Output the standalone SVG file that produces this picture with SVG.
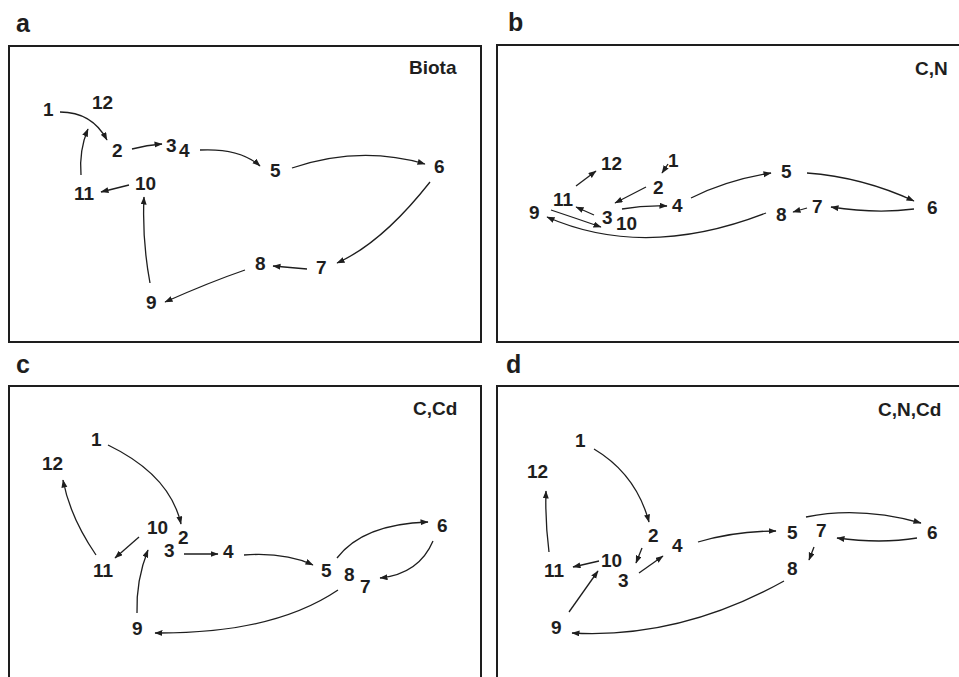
<svg xmlns="http://www.w3.org/2000/svg" width="959" height="677" viewBox="0 0 959 677">
<style>
.panel{fill:none;stroke:#1e1e1e;stroke-width:2}
.plabel{font-family:"Liberation Sans",Arial,sans-serif;font-weight:bold;font-size:25px;fill:#1e1e1e}
.title{font-family:"Liberation Sans",Arial,sans-serif;font-weight:bold;font-size:19px;fill:#1e1e1e}
.node text{font-family:"Liberation Sans",Arial,sans-serif;font-weight:bold;font-size:19px;fill:#1e1e1e}
.conn path{fill:none;stroke:#1e1e1e;stroke-width:1.3;marker-end:url(#ah)}
</style>
<defs>
<marker id="ah" markerUnits="userSpaceOnUse" markerWidth="9" markerHeight="7" refX="7.5" refY="3" orient="auto">
<path d="M0,0 L8,3 L0,6 z" fill="#1e1e1e"/>
</marker>
</defs>
<rect width="959" height="677" fill="#fff"/>

<!-- Panel a -->
<g id="panel-a">
<text class="plabel" x="16" y="32">a</text>
<rect class="panel" x="9" y="46" width="472" height="296"/>
<text class="title" x="409" y="74">Biota</text>
<g class="node" id="a-n1"><text x="43" y="116">1</text></g>
<g class="node" id="a-n12"><text x="92" y="109">12</text></g>
<g class="node" id="a-n2"><text x="112" y="157">2</text></g>
<g class="node" id="a-n3"><text x="166" y="152">3</text></g>
<g class="node" id="a-n4"><text x="179" y="157">4</text></g>
<g class="node" id="a-n5"><text x="270" y="177">5</text></g>
<g class="node" id="a-n6"><text x="434" y="173">6</text></g>
<g class="node" id="a-n7"><text x="316" y="274">7</text></g>
<g class="node" id="a-n8"><text x="255" y="270">8</text></g>
<g class="node" id="a-n9"><text x="146" y="309">9</text></g>
<g class="node" id="a-n10"><text x="135" y="190">10</text></g>
<g class="node" id="a-n11"><text x="74" y="200">11</text></g>
<g class="conn" id="a-connectors">
<path d="M60,112 Q92,112 107,140"/>
<path d="M132,149 Q147,145 162,144"/>
<path d="M200,150 Q240,148 260,166"/>
<path d="M292,168 Q360,145 425,164"/>
<path d="M430,182 Q382,243 337,263"/>
<path d="M307,269 L273,266"/>
<path d="M245,270 Q210,282 165,302"/>
<path d="M150,283 Q142,240 144,197"/>
<path d="M129,185 L101,192"/>
<path d="M81,175 Q79,150 88,129"/>
</g>
</g>

<!-- Panel b -->
<g id="panel-b">
<text class="plabel" x="508" y="31">b</text>
<rect class="panel" x="497" y="45" width="480" height="297"/>
<text class="title" x="915" y="75">C,N</text>
<g class="node" id="b-n1"><text x="668" y="167">1</text></g>
<g class="node" id="b-n12"><text x="601" y="170">12</text></g>
<g class="node" id="b-n2"><text x="653" y="194">2</text></g>
<g class="node" id="b-n5"><text x="781" y="178">5</text></g>
<g class="node" id="b-n6"><text x="927" y="214">6</text></g>
<g class="node" id="b-n4"><text x="672" y="212">4</text></g>
<g class="node" id="b-n7"><text x="812" y="213">7</text></g>
<g class="node" id="b-n8"><text x="776" y="221">8</text></g>
<g class="node" id="b-n9"><text x="529" y="219">9</text></g>
<g class="node" id="b-n11"><text x="553" y="206">11</text></g>
<g class="node" id="b-n3"><text x="602" y="224">3</text></g>
<g class="node" id="b-n10"><text x="616" y="230">10</text></g>
<g class="conn" id="b-connectors">
<path d="M668,164 L662,173"/>
<path d="M646,187 L615,203"/>
<path d="M622,209 Q645,205 667,206"/>
<path d="M691,198 Q727,180 771,173"/>
<path d="M807,173 Q862,177 914,201"/>
<path d="M914,209 Q876,214 831,207"/>
<path d="M807,208 L793,212"/>
<path d="M766,213 Q645,260 547,217"/>
<path d="M551,210 Q575,218 601,227"/>
<path d="M594,215 L576,207"/>
<path d="M576,186 L596,171"/>
</g>
</g>

<!-- Panel c -->
<g id="panel-c">
<text class="plabel" x="16" y="373">c</text>
<rect class="panel" x="9" y="386" width="472" height="320"/>
<text class="title" x="413" y="415">C,Cd</text>
<g class="node" id="c-n1"><text x="91" y="446">1</text></g>
<g class="node" id="c-n12"><text x="42" y="470">12</text></g>
<g class="node" id="c-n10"><text x="147" y="534">10</text></g>
<g class="node" id="c-n2"><text x="178" y="544">2</text></g>
<g class="node" id="c-n3"><text x="164" y="557">3</text></g>
<g class="node" id="c-n4"><text x="223" y="558">4</text></g>
<g class="node" id="c-n11"><text x="93" y="577">11</text></g>
<g class="node" id="c-n5"><text x="321" y="577">5</text></g>
<g class="node" id="c-n8"><text x="344" y="581">8</text></g>
<g class="node" id="c-n7"><text x="360" y="593">7</text></g>
<g class="node" id="c-n6"><text x="437" y="532">6</text></g>
<g class="node" id="c-n9"><text x="132" y="635">9</text></g>
<g class="conn" id="c-connectors">
<path d="M108,445 Q170,475 181,524"/>
<path d="M139,537 L115,558"/>
<path d="M137,613 Q136,580 148,550"/>
<path d="M96,555 Q70,517 63,480"/>
<path d="M184,554 L218,554"/>
<path d="M244,555 Q285,552 313,565"/>
<path d="M337,558 Q363,524 428,522"/>
<path d="M433,541 Q419,574 380,578"/>
<path d="M338,590 Q273,634 155,633"/>
</g>
</g>

<!-- Panel d -->
<g id="panel-d">
<text class="plabel" x="506" y="373">d</text>
<rect class="panel" x="497" y="386" width="480" height="320"/>
<text class="title" x="878" y="416">C,N,Cd</text>
<g class="node" id="d-n1"><text x="575" y="447">1</text></g>
<g class="node" id="d-n12"><text x="527" y="478">12</text></g>
<g class="node" id="d-n2"><text x="648" y="542">2</text></g>
<g class="node" id="d-n4"><text x="672" y="552">4</text></g>
<g class="node" id="d-n5"><text x="787" y="539">5</text></g>
<g class="node" id="d-n7"><text x="816" y="537">7</text></g>
<g class="node" id="d-n6"><text x="927" y="539">6</text></g>
<g class="node" id="d-n8"><text x="787" y="575">8</text></g>
<g class="node" id="d-n10"><text x="601" y="567">10</text></g>
<g class="node" id="d-n11"><text x="544" y="577">11</text></g>
<g class="node" id="d-n3"><text x="618" y="587">3</text></g>
<g class="node" id="d-n9"><text x="551" y="634">9</text></g>
<g class="conn" id="d-connectors">
<path d="M594,449 Q636,474 649,522"/>
<path d="M642,548 L636,563"/>
<path d="M639,573 L663,556"/>
<path d="M698,542 Q735,531 776,531"/>
<path d="M806,517 Q860,506 921,523"/>
<path d="M917,538 Q881,544 837,538"/>
<path d="M814,547 L809,560"/>
<path d="M599,561 L573,567"/>
<path d="M569,612 L598,571"/>
<path d="M549,552 Q545,520 546,491"/>
<path d="M784,581 Q680,639 572,633"/>
</g>
</g>
</svg>
